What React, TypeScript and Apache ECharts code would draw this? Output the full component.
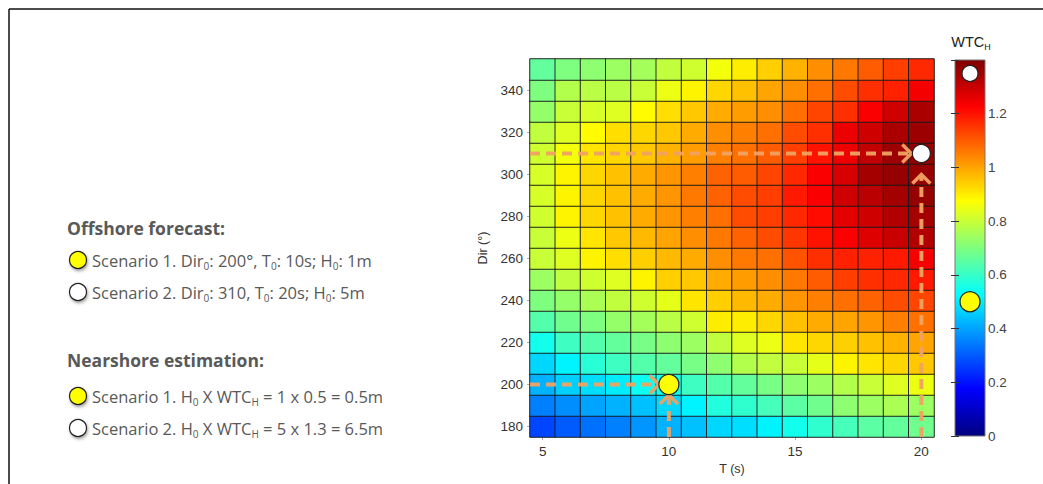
import React, { useEffect, useRef } from "react";
import * as echarts from "echarts";

// ---------- data ----------
const periods = [5, 6, 7, 8, 9, 10, 11, 12, 13, 14, 15, 16, 17, 18, 19, 20];
const directions = [180, 190, 200, 210, 220, 230, 240, 250, 260, 270, 280, 290, 300, 310, 320, 330, 340, 350];

// WTC_H values, one row per direction, columns T = 5..20 s
const dir180 = [0.27, 0.3, 0.33, 0.35, 0.38, 0.42, 0.44, 0.47, 0.48, 0.51, 0.55, 0.59, 0.62, 0.65, 0.66, 0.68];
const dir190 = [0.35, 0.37, 0.4, 0.42, 0.44, 0.47, 0.51, 0.57, 0.59, 0.62, 0.65, 0.68, 0.72, 0.74, 0.76, 0.74];
const dir200 = [0.42, 0.46, 0.48, 0.5, 0.54, 0.55, 0.61, 0.64, 0.66, 0.69, 0.72, 0.74, 0.77, 0.8, 0.83, 0.85];
const dir210 = [0.47, 0.51, 0.58, 0.61, 0.64, 0.66, 0.69, 0.72, 0.77, 0.79, 0.8, 0.84, 0.89, 0.91, 0.93, 0.95];
const dir220 = [0.55, 0.61, 0.64, 0.66, 0.69, 0.72, 0.74, 0.79, 0.83, 0.85, 0.91, 0.93, 0.94, 0.96, 0.98, 1.0];
const dir230 = [0.64, 0.68, 0.7, 0.73, 0.75, 0.78, 0.81, 0.9, 0.9, 0.93, 0.96, 0.99, 1.0, 1.02, 1.05, 1.07];
const dir240 = [0.7, 0.73, 0.76, 0.79, 0.81, 0.84, 0.91, 0.94, 0.97, 0.99, 1.02, 1.05, 1.07, 1.09, 1.12, 1.13];
const dir250 = [0.74, 0.79, 0.81, 0.83, 0.89, 0.94, 0.95, 0.99, 1.01, 1.03, 1.06, 1.1, 1.14, 1.16, 1.17, 1.19];
const dir260 = [0.8, 0.83, 0.89, 0.92, 0.94, 0.97, 0.99, 1.03, 1.06, 1.07, 1.11, 1.16, 1.18, 1.18, 1.19, 1.24];
const dir270 = [0.8, 0.85, 0.91, 0.95, 0.97, 1.0, 1.03, 1.06, 1.09, 1.12, 1.15, 1.2, 1.23, 1.27, 1.3, 1.33];
const dir280 = [0.81, 0.89, 0.93, 0.96, 0.99, 1.02, 1.05, 1.07, 1.12, 1.14, 1.17, 1.21, 1.26, 1.29, 1.33, 1.35];
const dir290 = [0.82, 0.89, 0.93, 0.96, 0.99, 1.02, 1.06, 1.09, 1.12, 1.14, 1.19, 1.23, 1.29, 1.32, 1.35, 1.37];
const dir300 = [0.82, 0.89, 0.93, 0.96, 0.99, 1.02, 1.05, 1.09, 1.1, 1.13, 1.17, 1.23, 1.28, 1.35, 1.37, 1.37];
const dir310 = [0.81, 0.86, 0.91, 0.93, 0.95, 0.98, 1.01, 1.05, 1.07, 1.1, 1.14, 1.2, 1.25, 1.31, 1.36, 1.37];
const dir320 = [0.79, 0.83, 0.88, 0.92, 0.93, 0.95, 0.99, 1.03, 1.05, 1.07, 1.12, 1.16, 1.25, 1.29, 1.34, 1.36];
const dir330 = [0.73, 0.8, 0.82, 0.83, 0.88, 0.92, 0.95, 0.99, 1.01, 1.03, 1.07, 1.13, 1.16, 1.23, 1.29, 1.34];
const dir340 = [0.7, 0.77, 0.78, 0.78, 0.8, 0.85, 0.89, 0.93, 0.96, 1.0, 1.03, 1.07, 1.12, 1.16, 1.18, 1.24];
const dir350 = [0.66, 0.7, 0.72, 0.74, 0.75, 0.79, 0.81, 0.86, 0.9, 0.94, 0.98, 1.03, 1.06, 1.1, 1.14, 1.17];

const wtcRows = [
  dir180, dir190, dir200, dir210, dir220, dir230, dir240, dir250, dir260,
  dir270, dir280, dir290, dir300, dir310, dir320, dir330, dir340, dir350,
];

// scenarios: offshore period, direction, and resulting WTC_H
const scenarioT = [10, 20];
const scenarioDir = [200, 310];
const scenarioWTC = [0.5, 1.35];
// where each arrow stops short of its marker (data units)
const arrowStopT = [0.4, 0.4];
const arrowStopDir = [5, 10];

const tMin = 4.5;
const tMax = 20.5;
const dirMin = 175;
const dirMax = 355;
const wtcMin = 0;
const wtcMax = 1.4;

// ---------- styles ----------
const jet = ["#00007F", "#0000FF", "#007FFF", "#00FFFF", "#7FFF7F", "#FFFF00", "#FF7F00", "#FF0000", "#7F0000"];
const markerFill = ["#FFFF00", "#FFFFFF"];
const arrowColor = "rgba(240,162,98,0.95)";
const axisFont = "'Liberation Sans', Arial, sans-serif";
const textFont = "'Open Sans', Lato, sans-serif";
const textGray = "#595959";

const G = { left: 530, top: 59, width: 404, height: 378 };
const CB = { left: 955, top: 60, width: 30, height: 376 };

export default function App() {
  const ref = useRef<HTMLDivElement>(null);

  useEffect(() => {
    if (!ref.current) return;
    const chart = echarts.init(ref.current, undefined, { renderer: "svg" });

    const heatData: number[][] = [];
    wtcRows.forEach((row, r) => row.forEach((v, c) => heatData.push([c, r, v])));

    const arrowData: number[][] = [];
    scenarioT.forEach((t, i) => {
      arrowData.push([tMin, scenarioDir[i], t - arrowStopT[i], scenarioDir[i]]);
      arrowData.push([t, dirMin, t, scenarioDir[i] - arrowStopDir[i]]);
    });

    const sub = (s: string) => `{s|${s}}`;
    const nrm = (s: string) => `{n|${s}}`;
    const rich = {
      n: { fontSize: 16.5, fontFamily: textFont, fill: textGray, lineHeight: 22 },
      s: { fontSize: 10, fontFamily: textFont, fill: textGray, lineHeight: 11, verticalAlign: "bottom" },
    };
    const legendLines = [
      { y: 260, fill: markerFill[0], text: nrm("Scenario 1. Dir") + sub("0") + nrm(": 200°, T") + sub("0") + nrm(": 10s; H") + sub("0") + nrm(": 1m") },
      { y: 292, fill: markerFill[1], text: nrm("Scenario 2. Dir") + sub("0") + nrm(": 310, T") + sub("0") + nrm(": 20s; H") + sub("0") + nrm(": 5m") },
      { y: 396, fill: markerFill[0], text: nrm("Scenario 1. H") + sub("0") + nrm(" X WTC") + sub("H") + nrm(" = 1 x 0.5 = 0.5m") },
      { y: 428, fill: markerFill[1], text: nrm("Scenario 2. H") + sub("0") + nrm(" X WTC") + sub("H") + nrm(" = 5 x 1.3 = 6.5m") },
    ];

    const graphics: any[] = [
      { type: "line", shape: { x1: 9, y1: 9, x2: 1043, y2: 9 }, style: { stroke: "#111", lineWidth: 1.5 } },
      { type: "line", shape: { x1: 9, y1: 9, x2: 9, y2: 484 }, style: { stroke: "#111", lineWidth: 1.5 } },
      {
        type: "text", x: 67, y: 228,
        style: { text: "Offshore forecast:", font: `bold 17.5px ${textFont}`, fill: textGray, verticalAlign: "middle" },
      },
      {
        type: "text", x: 67, y: 360,
        style: { text: "Nearshore estimation:", font: `bold 17.5px ${textFont}`, fill: textGray, verticalAlign: "middle" },
      },
      {
        type: "text", x: 971, y: 42,
        style: {
          text: "{n|WTC}{s|H}", align: "center", verticalAlign: "middle",
          rich: {
            n: { fontSize: 14.5, fontFamily: axisFont, fill: "#222", lineHeight: 18 },
            s: { fontSize: 9, fontFamily: axisFont, fill: "#222", lineHeight: 10, verticalAlign: "bottom" },
          },
        },
      },
    ];
    legendLines.forEach((l) => {
      graphics.push({
        type: "circle", shape: { cx: 78, cy: l.y, r: 8.5 },
        style: { fill: l.fill, stroke: "#222", lineWidth: 1.2, shadowBlur: 3, shadowOffsetX: 1, shadowOffsetY: 2, shadowColor: "rgba(0,0,0,0.35)" },
      });
      graphics.push({
        type: "text", x: 92, y: l.y,
        style: { text: l.text, rich, verticalAlign: "middle", align: "left" },
      });
    });

    const gradientStops = jet.map((c, i) => ({ offset: i / (jet.length - 1), color: c }));

    chart.setOption({
      animation: false,
      backgroundColor: "#ffffff",
      grid: [
        { ...G, show: true, borderColor: "#999", borderWidth: 1, containLabel: false },
        { ...G, containLabel: false },
        { ...CB, containLabel: false },
      ],
      visualMap: {
        type: "continuous", show: false, min: wtcMin, max: wtcMax, seriesIndex: 0,
        inRange: { color: jet },
      },
      xAxis: [
        {
          type: "category", gridIndex: 0, data: periods.map(String),
          name: "T (s)", nameLocation: "middle", nameGap: 25,
          nameTextStyle: { fontFamily: axisFont, fontSize: 12.5, color: "#333" },
          axisLine: { show: false },
          axisTick: {
            show: true, alignWithLabel: true, length: 3, lineStyle: { color: "#aaa" },
            interval: (i: number, v: string) => Number(v) % 5 === 0,
          },
          axisLabel: {
            interval: (i: number, v: string) => Number(v) % 5 === 0,
            fontFamily: axisFont, fontSize: 13.5, color: "#333", margin: 7,
          },
          splitLine: { show: false },
        },
        { type: "value", gridIndex: 1, min: tMin, max: tMax, show: false },
        { type: "value", gridIndex: 2, min: 0, max: 1, show: false },
      ],
      yAxis: [
        {
          type: "category", gridIndex: 0, data: directions.map(String),
          name: "Dir (°)", nameLocation: "middle", nameGap: 41, nameRotate: 90,
          nameTextStyle: { fontFamily: axisFont, fontSize: 12.5, color: "#333" },
          axisLine: { show: false },
          axisTick: {
            show: true, alignWithLabel: true, length: 3, lineStyle: { color: "#aaa" },
            interval: (i: number, v: string) => Number(v) % 20 === 0,
          },
          axisLabel: {
            interval: (i: number, v: string) => Number(v) % 20 === 0,
            fontFamily: axisFont, fontSize: 13.5, color: "#333", margin: 7,
          },
          splitLine: { show: false },
        },
        { type: "value", gridIndex: 1, min: dirMin, max: dirMax, show: false },
        {
          type: "value", gridIndex: 2, min: wtcMin, max: wtcMax, interval: 0.2, position: "right", z: 10,
          axisLine: { show: false },
          axisTick: { show: true, inside: true, length: 4, lineStyle: { color: "#333" } },
          axisLabel: {
            fontFamily: axisFont, fontSize: 13.5, color: "#444", margin: 3,
            formatter: (v: number) => (Math.abs(v - wtcMax) < 1e-6 ? "" : String(Math.round(v * 10) / 10)),
          },
          splitLine: { show: false },
        },
        {
          type: "value", gridIndex: 2, min: wtcMin, max: wtcMax, interval: 0.2, position: "left", z: 10,
          axisLine: { show: false },
          axisTick: { show: true, inside: true, length: 4, lineStyle: { color: "#333" } },
          axisLabel: { show: false },
          splitLine: { show: false },
        },
      ],
      series: [
        {
          type: "heatmap", xAxisIndex: 0, yAxisIndex: 0, data: heatData,
          itemStyle: { borderColor: "rgba(25,25,25,0.9)", borderWidth: 1 },
          emphasis: { disabled: true },
        },
        {
          type: "custom", xAxisIndex: 1, yAxisIndex: 1, data: arrowData, z: 5,
          renderItem: (params: any, api: any) => {
            const p1 = api.coord([api.value(0), api.value(1)]);
            const p2 = api.coord([api.value(2), api.value(3)]);
            const dx = p2[0] - p1[0];
            const dy = p2[1] - p1[1];
            const len = Math.hypot(dx, dy) || 1;
            const ux = dx / len;
            const uy = dy / len;
            const h = 9;
            const bx = p2[0] - ux * h;
            const by = p2[1] - uy * h;
            const nx = -uy;
            const ny = ux;
            return {
              type: "group",
              children: [
                {
                  type: "line",
                  shape: { x1: p1[0], y1: p1[1], x2: p2[0] - ux * 2, y2: p2[1] - uy * 2 },
                  style: { stroke: arrowColor, lineWidth: 4, lineDash: [10, 6], fill: null },
                },
                {
                  type: "polyline",
                  shape: { points: [[bx + nx * h, by + ny * h], [p2[0], p2[1]], [bx - nx * h, by - ny * h]] },
                  style: { stroke: arrowColor, lineWidth: 3.5, fill: null },
                },
              ],
            };
          },
        },
        {
          type: "scatter", xAxisIndex: 1, yAxisIndex: 1, z: 6,
          data: scenarioT.map((t, i) => ({
            value: [t, scenarioDir[i]],
            symbolSize: i === 0 ? 20 : 18,
            itemStyle: { color: markerFill[i], borderColor: "#222", borderWidth: 1.2, opacity: 1 },
          })),
          emphasis: { disabled: true },
        },
        {
          type: "custom", xAxisIndex: 2, yAxisIndex: 2, data: [[0, wtcMin, 1, wtcMax]], z: 2,
          renderItem: (params: any, api: any) => {
            const a = api.coord([api.value(0), api.value(3)]);
            const b = api.coord([api.value(2), api.value(1)]);
            return {
              type: "rect",
              shape: { x: a[0], y: a[1], width: b[0] - a[0], height: b[1] - a[1] },
              style: {
                fill: new echarts.graphic.LinearGradient(0, 1, 0, 0, gradientStops),
                stroke: "#777", lineWidth: 1,
              },
            };
          },
        },
        {
          type: "scatter", xAxisIndex: 2, yAxisIndex: 2, z: 6,
          data: scenarioWTC.map((w, i) => ({
            value: [0.5, w],
            symbolSize: i === 0 ? 20 : 16,
            itemStyle: { color: markerFill[i], borderColor: "#222", borderWidth: 1.2, opacity: 1 },
          })),
          emphasis: { disabled: true },
        },
      ],
      graphic: graphics,
    });

    return () => chart.dispose();
  }, []);

  return (
    <div
      ref={ref}
      style={{ position: "fixed", left: 0, top: 0, width: 1043, height: 484, background: "#fff" }}
    />
  );
}
